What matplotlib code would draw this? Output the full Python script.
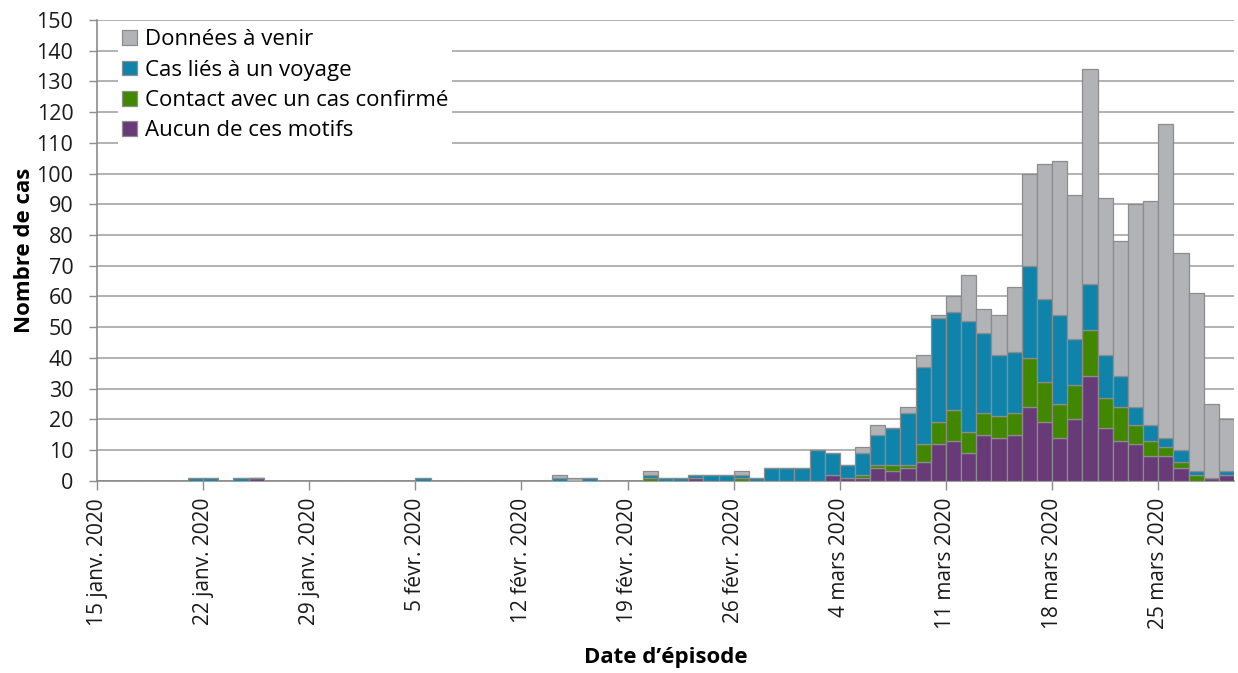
import matplotlib
matplotlib.use("Agg")
import matplotlib.pyplot as plt
import numpy as np

plt.rcParams['font.family'] = ['Open Sans', 'DejaVu Sans']

# Daily values, 15 janv. 2020 -> 29 mars 2020 (75 days)
aucun = [0,0,0,0,0,0,0,0,0,0,
         1,0,0,0,0,0,0,0,0,0,
         0,0,0,0,0,0,0,0,0,0,
         0,0,0,0,0,0,0,0,0,1,
         0,0,0,0,0,0,0,0,2,1,
         1,4,3,4,6,12,13,9,15,14,
         15,24,19,14,20,34,17,13,12,8,
         8,4,0,1,2]
contact = [0,0,0,0,0,0,0,0,0,0,
           0,0,0,0,0,0,0,0,0,0,
           0,0,0,0,0,0,0,0,0,0,
           0,0,0,0,0,0,1,0,0,0,
           0,0,1,0,0,0,0,0,0,0,
           1,1,2,1,6,7,10,7,7,7,
           7,16,13,11,11,15,10,11,6,5,
           3,2,2,0,0]
voyage = [0,0,0,0,0,0,1,1,0,1,
          0,0,0,0,0,0,0,0,0,0,
          0,1,0,0,0,0,0,0,0,0,
          1,0,1,0,0,0,1,1,1,1,
          2,2,1,1,4,4,4,10,7,4,
          7,10,12,17,25,34,32,36,26,20,
          20,30,27,29,15,15,14,10,6,5,
          3,4,1,0,1]
a_venir = [0,0,0,0,0,0,0,0,0,0,
           0,0,0,0,0,0,0,0,0,0,
           0,0,0,0,0,0,0,0,0,0,
           1,1,0,0,0,0,1,0,0,0,
           0,0,1,0,0,0,0,0,0,0,
           2,3,0,2,4,1,5,15,8,13,
           21,30,44,50,47,70,51,44,66,73,
           102,64,58,24,17]

tick_days = [0, 7, 14, 21, 28, 35, 42, 49, 56, 63, 70]
tick_labels = ["15 janv. 2020", "22 janv. 2020", "29 janv. 2020", "5 févr. 2020",
               "12 févr. 2020", "19 févr. 2020", "26 févr. 2020", "4 mars 2020",
               "11 mars 2020", "18 mars 2020", "25 mars 2020"]

series_names = ["Aucun de ces motifs", "Contact avec un cas confirmé",
                "Cas liés à un voyage", "Données à venir"]
colors = ["#683a78", "#418800", "#1083ab", "#b2b3b7"]

W, H = 1238, 673
fig = plt.figure(figsize=(W/100, H/100), dpi=100)
ax = fig.add_axes([97/W, 1-480.7/H, 1137/W, 460.7/H])

x = np.arange(len(aucun))
bottom = np.zeros(len(aucun))
handles = []
for vals, name, col in zip([aucun, contact, voyage, a_venir], series_names, colors):
    v = np.array(vals, dtype=float)
    b = ax.bar(x, v, width=1.0, bottom=bottom, align='edge', color=col,
               edgecolor='#8c8c8c', linewidth=0.9, label=name, zorder=3)
    handles.append(b)
    bottom += v

ax.set_xlim(0, len(aucun))
ax.set_ylim(0, 150)
ax.set_yticks(np.arange(0, 151, 10))
ax.set_xticks(tick_days)
ax.set_xticklabels(tick_labels, rotation=90, fontsize=15, color='#1a1a1a')
ax.tick_params(axis='y', labelsize=15.5, labelcolor='#1a1a1a', length=6, width=1,
               color='#8c8c8c', pad=11)
ax.tick_params(axis='x', length=6.5, width=1, color='#8c8c8c', pad=6)
ax.grid(axis='y', color='#a6a6a6', linewidth=1.2, zorder=0)
ax.set_axisbelow(True)
for s in ['top', 'right']:
    ax.spines[s].set_visible(False)
for s in ['left', 'bottom']:
    ax.spines[s].set_color('#8c8c8c')
    ax.spines[s].set_linewidth(1.2)

ax.set_ylabel("Nombre de cas", fontsize=16, fontweight='bold', labelpad=1)
ax.set_xlabel("Date d’épisode", fontsize=16, fontweight='bold', labelpad=13)

leg = ax.legend(handles[::-1], series_names[::-1], loc='upper left',
                bbox_to_anchor=((118-97)/1137, 1 - 5.0/460.7), borderaxespad=0,
                fontsize=16, frameon=True, facecolor='white', edgecolor='none',
                framealpha=1, fancybox=False, handlelength=0.64, handleheight=0.64,
                handletextpad=0.36, labelspacing=0.42, borderpad=0.2)
leg.set_zorder(5)

fig.savefig("out.png", dpi=100)
